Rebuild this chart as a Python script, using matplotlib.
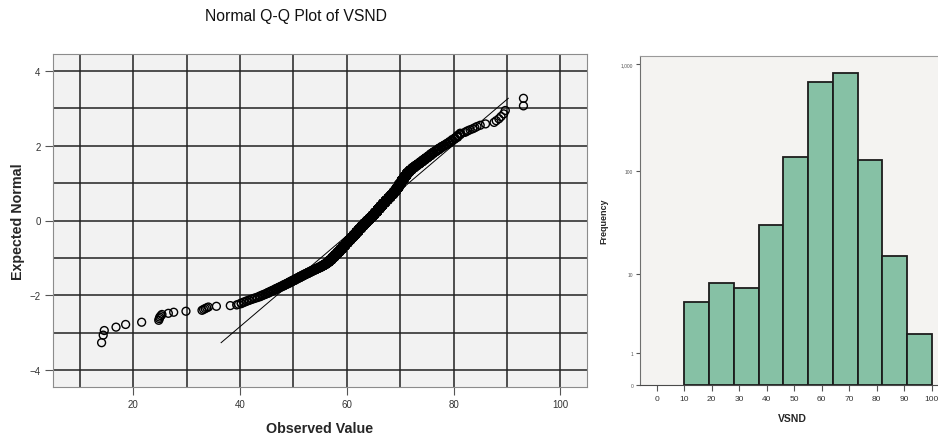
import numpy as np
import matplotlib
matplotlib.use("Agg")
import matplotlib.pyplot as plt
from statistics import NormalDist

plt.rcParams["font.family"] = ["Liberation Sans", "DejaVu Sans"]

# ---- VSND sample ----
# individually visible low values
low_tail = [14.1, 14.4, 14.6, 16.8, 18.6, 21.6, 24.8, 24.9, 25.0, 25.2, 25.4,
            26.6, 27.6, 29.9, 32.9, 33.2, 33.5, 33.8, 34.1, 35.6, 38.2, 39.4]
# frequency table (half-unit classes) of the dense middle of the distribution
core_values = [39.75, 40.25, 40.75, 41.25, 41.75, 42.25, 42.75, 43.25,
               43.75, 44.25, 44.75, 45.25, 45.75, 46.25, 46.75, 47.25,
               47.75, 48.25, 48.75, 49.25, 49.75, 50.25, 50.75, 51.25,
               51.75, 52.25, 52.75, 53.25, 53.75, 54.25, 54.75, 55.25,
               55.75, 56.25, 56.75, 57.25, 57.75, 58.25, 58.75, 59.25,
               59.75, 60.25, 60.75, 61.25, 61.75, 62.25, 62.75, 63.25,
               63.75, 64.25, 64.75, 65.25, 65.75, 66.25, 66.75, 67.25,
               67.75, 68.25, 68.75, 69.25, 69.75, 70.25, 70.75, 71.25,
               71.75, 72.25, 72.75, 73.25, 73.75, 74.25, 74.75, 75.25,
               75.75, 76.25, 76.75, 77.25, 77.75, 78.25, 78.75, 79.25,
               79.75, 80.25, 80.75, 81.25]
core_counts = [1, 2, 2, 2, 2, 2, 2, 2,
               3, 3, 3, 4, 4, 4, 5, 5,
               5, 6, 6, 7, 7, 8, 8, 9,
               9, 9, 10, 10, 10, 11, 11, 13,
               15, 20, 25, 31, 33, 37, 41, 44,
               46, 48, 49, 50, 55, 56, 55, 56,
               50, 50, 54, 56, 58, 57, 52, 48,
               45, 45, 46, 49, 52, 48, 38, 32,
               21, 17, 14, 12, 12, 11, 10, 9,
               9, 7, 6, 6, 5, 4, 4, 4,
               4, 3, 4, 3]
# individually visible high values
high_tail = [82.1, 82.4, 82.7, 83.1, 83.6, 84.0, 84.4, 85.0, 86.0, 87.6,
             88.0, 88.5, 88.9, 89.4, 89.7, 93.1, 93.1]

# ---- histogram (safe-log frequency axis) ----
hist_edges = [10, 19, 28, 37, 46, 55, 64, 73, 82, 91, 100]
hist_counts = [5, 8, 7, 30, 135, 683, 818, 127, 15, 2]

# assemble sorted observations and van der Waerden normal scores
obs = np.sort(np.concatenate([low_tail,
                              np.repeat(core_values, core_counts),
                              high_tail]).astype(float))
n = obs.size
nd = NormalDist()
expected = np.array([nd.inv_cdf(r / (n + 1)) for r in range(1, n + 1)])
mu, sd = obs.mean(), obs.std(ddof=1)

W, H = 938, 439
fig = plt.figure(figsize=(W / 100, H / 100), dpi=100, facecolor="white")


def box(l, t, r, b):
    return [l / W, 1 - b / H, (r - l) / W, (b - t) / H]


# ---------------- Normal Q-Q plot ----------------
ax = fig.add_axes(box(53, 55, 587, 388))
ax.set_facecolor("#f2f2f2")
ax.set_xlim(5, 105)
ax.set_ylim(-4.45, 4.45)
for gx in range(10, 101, 10):
    ax.axvline(gx, color="#222222", lw=1.1, zorder=1)
for gy in range(-4, 5):
    ax.axhline(gy, color="#222222", lw=1.1, zorder=1)

zl = np.array([expected.min(), expected.max()])
ax.plot(mu + zl * sd, zl, color="black", lw=0.7, zorder=3)
ax.scatter(obs, expected, s=32, facecolors="none", edgecolors="black",
           linewidths=1.0, zorder=4)

ax.set_xticks([20, 40, 60, 80, 100])
ax.set_yticks([-4, -2, 0, 2, 4])
ax.tick_params(axis="both", length=6, width=0.8, color="#555555",
               labelsize=7, labelcolor="#333333", pad=3)
for s in ax.spines.values():
    s.set_color("#8c8c8c")
    s.set_linewidth(0.8)
ax.set_xlabel("Observed Value", fontsize=10.3, fontweight="bold",
              color="#262626", labelpad=8)
ax.set_ylabel("Expected Normal", fontsize=10.3, fontweight="bold",
              color="#262626", labelpad=3)
fig.text(296 / W, 1 - 16 / H, "Normal Q-Q Plot of VSND", ha="center",
         va="center", fontsize=11.3, color="#111111")

# ---------------- Histogram ----------------
hx = fig.add_axes(box(640, 57, 945, 386))
hx.set_facecolor("#f4f3f1")
hx.set_yscale("function", functions=(lambda v: np.log10(np.clip(v, 0, None) + 1),
                                     lambda u: 10 ** u - 1))
hx.bar(hist_edges[:-1], hist_counts, width=np.diff(hist_edges), align="edge",
       color="#86c1a5", edgecolor="#1c1c1c", linewidth=1.3, zorder=2)
hx.set_xlim(-6.1, 104.8)
hx.set_ylim(0, 1187)
hx.set_xticks(range(0, 101, 10))
hx.set_yticks([0, 1, 10, 100, 1000])
hx.set_yticklabels(["0", "1", "10", "100", "1,000"])
hx.tick_params(axis="x", length=4, width=0.8, color="#555555",
               labelsize=6, labelcolor="#333333", pad=3)
hx.tick_params(axis="y", length=3, width=0.8, color="#555555",
               labelsize=3.5, labelcolor="#555555", pad=2)
hx.spines["right"].set_visible(False)
hx.spines["top"].set_color("#9a9a9a")
hx.spines["left"].set_color("#6e6e6e")
hx.spines["bottom"].set_color("#4a4a4a")
for s in hx.spines.values():
    s.set_linewidth(0.8)
hx.set_xlabel("VSND", fontsize=7.5, fontweight="bold", color="#262626",
              labelpad=8)
hx.set_ylabel("Frequency", fontsize=6.5, fontweight="bold", color="#262626",
              labelpad=9)

fig.savefig("out.png", dpi=100, facecolor="white")
